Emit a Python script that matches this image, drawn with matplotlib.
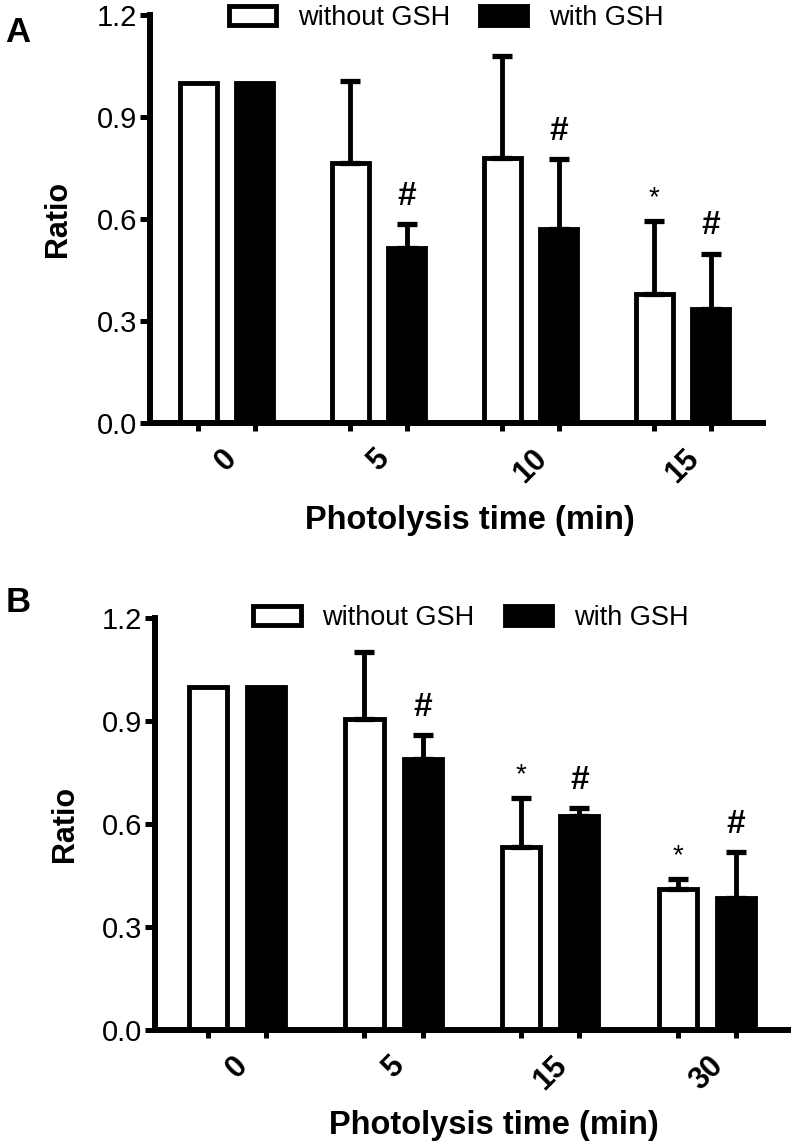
import numpy as np
import matplotlib
matplotlib.use("Agg")
import matplotlib.pyplot as plt

plt.rcParams['font.family'] = ['Liberation Sans', 'DejaVu Sans']

# ---------------- data ----------------
A_labels = ['0', '5', '10', '15']
A_without = [1.0, 0.765, 0.78, 0.38]
A_without_err = [0.0, 0.24, 0.30, 0.215]
A_with = [1.0, 0.515, 0.572, 0.336]
A_with_err = [0.0, 0.07, 0.205, 0.162]
A_without_marks = ['', '', '', '*']
A_with_marks = ['', '#', '#', '#']

B_labels = ['0', '5', '15', '30']
B_without = [1.0, 0.905, 0.532, 0.412]
B_without_err = [0.0, 0.197, 0.144, 0.029]
B_with = [1.0, 0.79, 0.624, 0.385]
B_with_err = [0.0, 0.068, 0.022, 0.134]
B_without_marks = ['', '', '*', '*']
B_with_marks = ['', '#', '#', '#']

series_names = ['without GSH', 'with GSH']
y_ticks = [0.0, 0.3, 0.6, 0.9, 1.2]

LW = 3.5
OFF = 0.186
W = 0.243


def draw(ax, labels, wo, wo_err, wi, wi_err, wo_marks, wi_marks,
         xlim, legend_xy, ylabel_x, xlabel_xy):
    n = len(labels)
    x = np.arange(n)
    for pos, vals, errs, marks, fc, name in [
            (x - OFF, wo, wo_err, wo_marks, 'white', series_names[0]),
            (x + OFF, wi, wi_err, wi_marks, 'black', series_names[1])]:
        vals = np.asarray(vals, float)
        errs = np.asarray(errs, float)
        ax.bar(pos, vals, W, facecolor=fc, edgecolor='black', linewidth=LW,
               label=name, zorder=2)
        idx = errs > 0
        ax.errorbar(pos[idx], vals[idx],
                    yerr=[np.zeros(idx.sum()), errs[idx]],
                    fmt='none', ecolor='black', elinewidth=3.5,
                    capsize=7, capthick=3.8, zorder=3)
        for p, v, e, m in zip(pos, vals, errs, marks):
            if m == '#':
                ax.annotate(m, (p, v + e), xytext=(0, 20),
                            textcoords='offset points', ha='center',
                            va='center', fontsize=24, fontweight='bold')
            elif m == '*':
                ax.annotate(m, (p, v + e), xytext=(0, 16),
                            textcoords='offset points', ha='center',
                            va='center', fontsize=20)

    ax.set_xlim(*xlim)
    ax.set_ylim(0, 1.2)
    ax.spines['top'].set_visible(False)
    ax.spines['right'].set_visible(False)
    ax.spines['left'].set_linewidth(4.3)
    ax.spines['bottom'].set_linewidth(4.3)

    ax.set_yticks(y_ticks)
    ax.set_yticklabels([f'{t:.1f}' for t in y_ticks], fontsize=21)
    ax.tick_params(axis='y', length=7, width=3.6, pad=2)

    major = np.sort(np.concatenate([x - OFF, x + OFF]))
    ax.set_xticks(major)
    ax.set_xticklabels([''] * len(major))
    ax.tick_params(axis='x', which='major', length=6, width=3.6)
    ax.set_xticks(x, labels, minor=True)
    for t in ax.get_xticklabels(minor=True):
        t.set_rotation(45)
        t.set_ha('center')
        t.set_fontweight('bold')
        t.set_fontsize(22)
    ax.tick_params(axis='x', which='minor', length=0, pad=15)

    ax.set_ylabel('Ratio', fontsize=22, fontweight='bold')
    ax.yaxis.set_label_coords(ylabel_x, 0.5)
    ax.set_xlabel('Photolysis time (min)', fontsize=23.5, fontweight='bold')
    ax.xaxis.set_label_coords(*xlabel_xy)

    ax.legend(ncol=2, loc='center', bbox_to_anchor=legend_xy,
              frameon=False, fontsize=19.5, handlelength=1.75,
              handleheight=0.7, handletextpad=0.8, columnspacing=1.1,
              borderaxespad=0)


fig = plt.figure(figsize=(7.92, 11.47), dpi=100)
axA = fig.add_axes([150 / 792, 1 - 423 / 1147, 613 / 792, 408 / 1147])
axB = fig.add_axes([155 / 792, 1 - 1030 / 1147, 633 / 792, 412 / 1147])

draw(axA, A_labels, A_without, A_without_err, A_with, A_with_err,
     A_without_marks, A_with_marks, (-0.503, 3.53),
     (0.483, 0.993), -0.125, (0.522, -0.20))
draw(axB, B_labels, B_without, B_without_err, B_with, B_with_err,
     B_without_marks, B_with_marks, (-0.523, 3.517),
     (0.499, 1.0), -0.118, (0.535, -0.195))

fig.text(18 / 792, 1 - 33 / 1147, 'A', fontsize=25, fontweight='bold',
         ha='center', va='center')
fig.text(18 / 792, 1 - 603 / 1147, 'B', fontsize=25, fontweight='bold',
         ha='center', va='center')

fig.savefig('out.png', dpi=100)
